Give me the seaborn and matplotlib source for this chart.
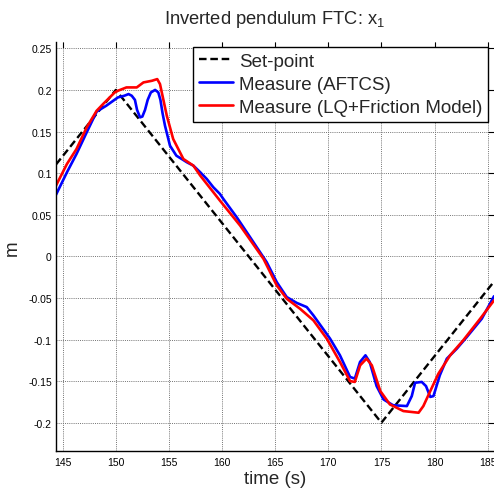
import matplotlib
matplotlib.use("Agg")
import matplotlib.pyplot as plt
import seaborn as sns
import pandas as pd

# ---- data ----
sp_t = [144.37, 150.0, 175.0, 185.6]
sp_y = [0.1104, 0.2, -0.2, -0.0304]

blue_t = [144.37, 145.4, 146.3, 147.26, 148.2, 149.1, 150.2, 150.8, 151.2, 151.5,
          151.8, 152.0, 152.28, 152.5, 152.75, 153.0, 153.3, 153.7, 154.0, 154.2,
          154.4, 154.63, 155.1, 155.7, 156.7, 157.3, 157.95, 158.56, 159.18, 159.8,
          160.12, 161.38, 162.64, 164.2, 165.15, 166.09, 167.03, 167.97, 168.6, 170.17,
          171.1, 172.05, 172.5, 172.99, 173.5, 173.9, 174.55, 175.2, 176.1, 177.4,
          177.86, 178.17, 178.8, 179.2, 179.6, 179.9, 180.5, 181.16, 182.1, 183.04,
          184.45, 185.6]
blue_y = [0.074, 0.101, 0.123, 0.149, 0.174, 0.181, 0.191, 0.193, 0.195, 0.193,
          0.188, 0.176, 0.167, 0.168, 0.176, 0.188, 0.197, 0.200, 0.197, 0.188,
          0.172, 0.157, 0.133, 0.121, 0.113, 0.109, 0.101, 0.093, 0.083, 0.075,
          0.069, 0.047, 0.023, -0.007, -0.031, -0.049, -0.056, -0.061, -0.071, -0.099,
          -0.119, -0.145, -0.147, -0.127, -0.119, -0.127, -0.156, -0.172, -0.179, -0.180,
          -0.168, -0.152, -0.151, -0.156, -0.169, -0.168, -0.143, -0.123, -0.111, -0.097,
          -0.075, -0.048]

red_t = [144.37, 145.4, 146.3, 147.26, 148.2, 148.8, 149.9, 150.2, 151.0, 151.97,
         152.6, 153.4, 153.9, 154.16, 154.8, 155.4, 156.36, 157.3, 157.95, 159.8,
         161.7, 163.9, 165.15, 166.09, 167.34, 168.6, 169.86, 171.1, 172.05, 172.5,
         173.0, 173.6, 174.1, 174.9, 175.8, 177.07, 178.5, 178.95, 179.6, 180.37,
         181.47, 182.7, 184.3, 185.6]
red_y = [0.085, 0.111, 0.129, 0.155, 0.175, 0.183, 0.197, 0.199, 0.203, 0.203,
         0.209, 0.211, 0.213, 0.207, 0.169, 0.141, 0.117, 0.109, 0.097, 0.067,
         0.037, -0.003, -0.035, -0.051, -0.063, -0.077, -0.099, -0.127, -0.150, -0.151,
         -0.131, -0.123, -0.131, -0.162, -0.178, -0.186, -0.188, -0.180, -0.162, -0.141,
         -0.119, -0.101, -0.075, -0.053]

x_ticks = [145, 150, 155, 160, 165, 170, 175, 180, 185]
y_ticks = [-0.2, -0.15, -0.1, -0.05, 0, 0.05, 0.1, 0.15, 0.2, 0.25]
y_tick_labels = ["-0.2", "-0.15", "-0.1", "-0.05", "0", "0.05", "0.1", "0.15", "0.2", "0.25"]

labels = ["Set-point", "Measure (AFTCS)", "Measure (LQ+Friction Model)"]

# ---- style ----
sns.set_style("white")
plt.rcParams["font.family"] = ["Liberation Sans", "DejaVu Sans"]
plt.rcParams["mathtext.fontset"] = "custom"
plt.rcParams["mathtext.rm"] = "Liberation Sans"

W, H = 494, 489
fig = plt.figure(figsize=(W / 100, H / 100), dpi=100)
L, R, T, B = 56, 494, 43, 452
ax = fig.add_axes([L / W, (H - B) / H, (R - L) / W, (B - T) / H])

df_sp = pd.DataFrame({"t": sp_t, "y": sp_y})
df_b = pd.DataFrame({"t": blue_t, "y": blue_y})
df_r = pd.DataFrame({"t": red_t, "y": red_y})

LW = 1.9
sns.lineplot(data=df_sp, x="t", y="y", ax=ax, color="black", lw=1.7,
             label=labels[0], estimator=None, sort=False)
ax.lines[-1].set_dashes((3.2, 1.6))
sns.lineplot(data=df_b, x="t", y="y", ax=ax, color="#0000ff", lw=LW,
             label=labels[1], estimator=None, sort=False)
sns.lineplot(data=df_r, x="t", y="y", ax=ax, color="#ff0000", lw=LW,
             label=labels[2], estimator=None, sort=False)

ax.set_xlim(144.37, 185.6)
ax.set_ylim(-0.234, 0.2576)
ax.set_xticks(x_ticks)
ax.set_xticklabels([str(v) for v in x_ticks])
ax.set_yticks(y_ticks)
ax.set_yticklabels(y_tick_labels)
ax.tick_params(direction="in", length=4.5, width=0.8, labelsize=7.5, colors="black",
               top=True, right=True, pad=4)
ax.tick_params(axis="y", pad=3)
ax.grid(True, color="0.45", linestyle=(0, (1, 1.2)), lw=0.7)
for s in ["left", "bottom"]:
    ax.spines[s].set_color("black")
    ax.spines[s].set_linewidth(1.0)
for s in ["top", "right"]:
    ax.spines[s].set_visible(False)

ax.set_xlabel("time (s)", fontsize=13.5)
ax.xaxis.set_label_coords(0.5, -0.046)
ax.set_ylabel("m", fontsize=13.5)
ax.yaxis.set_label_coords(-0.08, 0.499)

fig.text(275 / W, 1 - 20 / H, r"Inverted pendulum FTC: x$_\mathregular{1}$",
         ha="center", va="center", fontsize=13.2)

leg = ax.legend(loc="upper right", bbox_to_anchor=((488 - L) / (R - L), (B - 48) / (B - T)),
                borderaxespad=0, fontsize=13.5, frameon=True, fancybox=False,
                handlelength=1.85, handletextpad=0.3, labelspacing=0.32,
                borderpad=0.3, edgecolor="black", framealpha=1)
leg.get_frame().set_linewidth(1.0)

fig.savefig("out.png", dpi=100)
